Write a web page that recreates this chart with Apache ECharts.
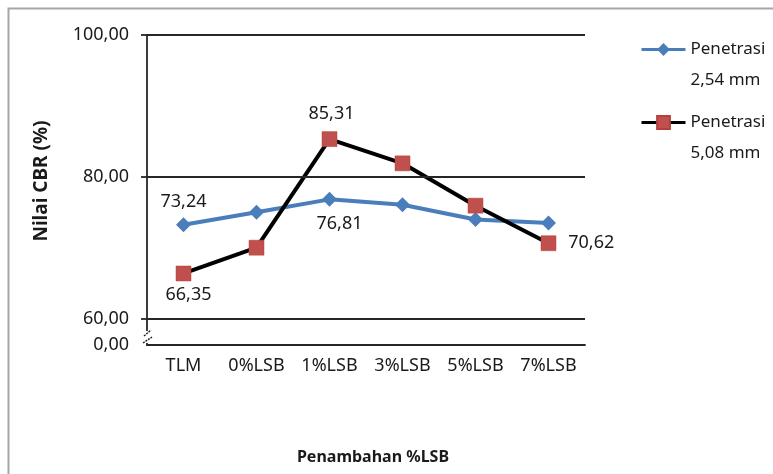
<!DOCTYPE html>
<html><head><meta charset="utf-8">
<script src="https://cdn.jsdelivr.net/npm/echarts@6/dist/echarts.min.js"></script>
<style>html,body{margin:0;padding:0;background:#fff}#c{width:773px;height:474px}</style>
</head><body><div id="c"></div>
<script>
const categories = ['TLM', '0%LSB', '1%LSB', '3%LSB', '5%LSB', '7%LSB'];
const pen254 = [73.24, 74.99, 76.81, 76.06, 73.96, 73.49];
const pen508 = [66.35, 69.99, 85.31, 81.89, 75.92, 70.62];
const seriesNames = ['Penetrasi 2,54 mm', 'Penetrasi 5,08 mm'];
const gridValues = [60, 80, 100];
const axisMin = 56.26, axisMax = 100;
const yLabelValues = [axisMin, 60, 80, 100];

const FONT = 'Noto Sans';
const fmt = v => v.toFixed(2).replace('.', ',');
const lbl = (pos, extra) => Object.assign({show: true, position: pos, formatter: p => fmt(p.value), fontFamily: FONT, fontSize: 18, color: '#1a1a1a'}, extra || {});

const chart = echarts.init(document.getElementById('c'), null, {renderer: 'canvas'});
chart.setOption({
  animation: false,
  backgroundColor: '#fff',
  grid: {left: 147, right: 188, top: 35, bottom: 129, containLabel: false},
  legend: {
    orient: 'vertical', left: 640, top: 3, padding: 0, itemGap: -20,
    itemWidth: 44, itemHeight: 16,
    data: seriesNames,
    formatter: n => '\n' + n.replace(' ', '\n'),
    lineStyle: {width: 3},
    textStyle: {fontFamily: FONT, fontSize: 17, color: '#1a1a1a', lineHeight: 31}
  },
  xAxis: {
    type: 'category', data: categories, boundaryGap: true,
    axisLine: {show: true, lineStyle: {color: '#262626', width: 1.8}},
    axisTick: {show: false},
    axisLabel: {interval: 0, hideOverlap: false, fontFamily: FONT, fontSize: 18, color: '#1a1a1a', margin: 12},
    name: 'Penambahan %LSB', nameLocation: 'middle', nameGap: 104,
    nameTextStyle: {fontFamily: FONT, fontSize: 16, fontWeight: 'bold', color: '#1a1a1a', padding: [0, 0, 0, 14]}
  },
  yAxis: {
    type: 'value', min: axisMin, max: axisMax,
    axisLine: {show: true, lineStyle: {color: '#262626', width: 1.8}},
    axisTick: {show: true, customValues: gridValues, length: 6, lineStyle: {color: '#262626', width: 1.8}},
    axisLabel: {customValues: yLabelValues, fontFamily: FONT, fontSize: 18, color: '#1a1a1a', margin: 18,
      formatter: v => v < 59 ? '0,00' : fmt(v)},
    splitLine: {show: false},
    name: 'Nilai CBR (%)', nameLocation: 'middle', nameGap: 96,
    nameTextStyle: {fontFamily: FONT, fontSize: 19, fontWeight: 'bold', color: '#1a1a1a', padding: [0, 0, 0, 18]}
  },
  series: [
    {
      name: 'grid', type: 'line', data: [], z: 0, silent: true,
      markLine: {silent: true, symbol: 'none', label: {show: false},
        lineStyle: {color: '#262626', width: 1.8, type: 'solid'},
        data: gridValues.map(v => ({yAxis: v}))}
    },
    {
      name: seriesNames[0], type: 'line', data: pen254.map((v, i) => {
        if (i === 0) return {value: v, label: lbl('top', {distance: 6})};
        if (i === 2) return {value: v, label: lbl('bottom', {distance: 8, offset: [10, 0]})};
        return v;
      }),
      z: 3,
      symbol: 'diamond', symbolSize: [15, 15],
      lineStyle: {color: '#4A7EBB', width: 4},
      itemStyle: {color: '#4A7EBB'}
    },
    {
      name: seriesNames[1], type: 'line', data: pen508.map((v, i) => {
        if (i === 0) return {value: v, label: lbl('bottom', {distance: 5, offset: [5, 0]})};
        if (i === 2) return {value: v, label: lbl('top', {distance: 8, offset: [2, 0]})};
        if (i === 5) return {value: v, label: lbl('right', {distance: 12})};
        return v;
      }),
      z: 4,
      symbol: 'rect', symbolSize: 15,
      lineStyle: {color: '#000', width: 4},
      itemStyle: {color: '#C0504D', borderColor: '#B7403D', borderWidth: 0.5}
    }
  ]
});

// chart frame and axis-break mark (decoration, positioned from the axis scale)
const pMin = chart.convertToPixel({gridIndex: 0}, [0, axisMin]);
const ax = 147;
const yb = pMin[1];
chart.setOption({
  graphic: [
    {type: 'rect', shape: {x: 8.5, y: 8.5, width: 900, height: 600}, style: {fill: 'none', stroke: '#a6a6a6', lineWidth: 2}, z: 0, silent: true},
    {type: 'rect', shape: {x: ax - 3, y: yb - 14, width: 6, height: 12}, style: {fill: '#fff'}, z: 50, silent: true},
    {type: 'line', shape: {x1: ax - 3, y1: yb - 9, x2: ax + 4, y2: yb - 15}, style: {stroke: '#222', lineWidth: 1.5, lineDash: [2, 1]}, z: 51, silent: true},
    {type: 'line', shape: {x1: ax - 4, y1: yb - 2, x2: ax + 5, y2: yb - 8}, style: {stroke: '#222', lineWidth: 1.5, lineDash: [2, 1]}, z: 51, silent: true}
  ]
});
</script></body></html>
